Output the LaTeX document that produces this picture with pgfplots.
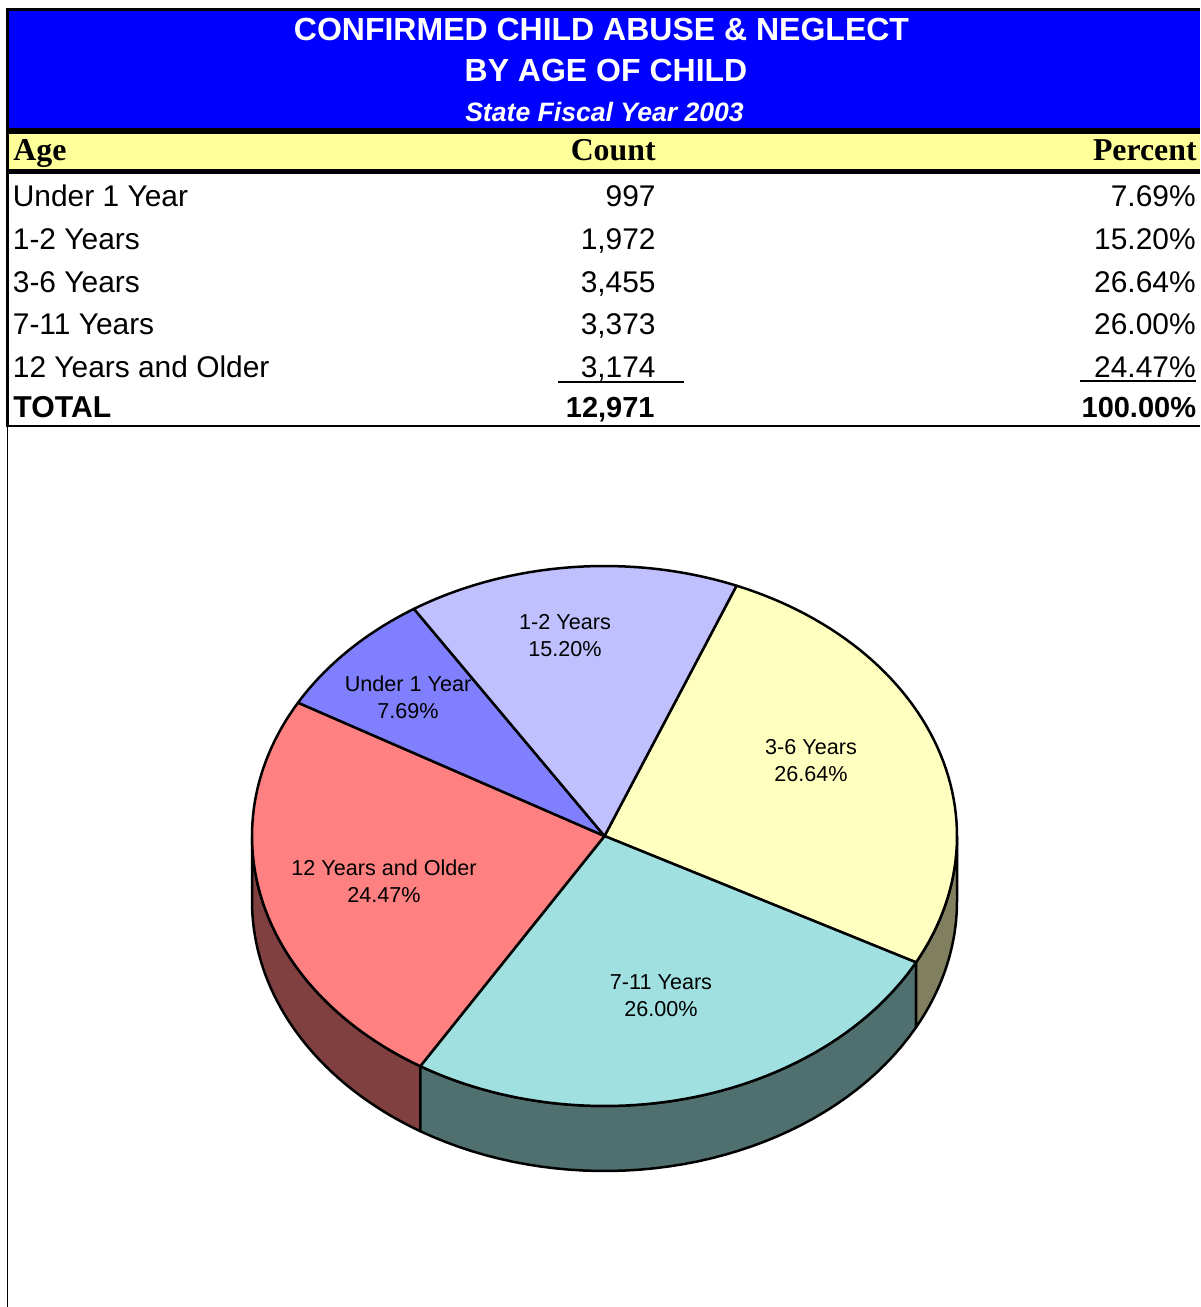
\documentclass[border=0pt]{standalone}
\usepackage{fontspec}
\setmainfont{Liberation Sans}
\newfontfamily\serifb[Ligatures=TeX]{Liberation Serif}
\usepackage{pgfplots}
\usepackage{pgfplotstable}
\pgfplotsset{compat=1.18}
\definecolor{hblue}{HTML}{0000FF}
\definecolor{hyel}{HTML}{FFFF99}
\definecolor{cunder}{HTML}{8080FF}
\definecolor{cone}{HTML}{C0C0FF}
\definecolor{cthree}{HTML}{FFFFC0}
\definecolor{cseven}{HTML}{A0E0E0}
\definecolor{ctwelve}{HTML}{FF8080}
\definecolor{dthree}{HTML}{808060}
\definecolor{dseven}{HTML}{507070}
\definecolor{dtwelve}{HTML}{804040}
% age group, percent of total
\pgfplotstableread{
age percent
under1 7.69
one2 15.20
three6 26.64
seven11 26.00
twelve 24.47
}\pietable
\newcommand\getp[2]{\pgfplotstablegetelem{#1}{percent}\of\pietable\let#2\pgfplotsretval}
\getp{0}{\pU}\getp{1}{\pO}\getp{2}{\pT}\getp{3}{\pS}\getp{4}{\pW}
\def\cx{604.5}\def\cy{836}\def\rx{352.5}\def\ry{270}\def\dep{65}
\pgfmathsetmacro\aA{68.0}
\pgfmathsetmacro\aB{\aA-3.6*\pT}
\pgfmathsetmacro\aC{\aB-3.6*\pS}
\pgfmathsetmacro\aD{\aC-3.6*\pW}
\pgfmathsetmacro\aE{\aD-3.6*\pU}
\pgfmathsetmacro\aF{\aE-3.6*\pO}
\pgfmathsetmacro\wB{\aB+360}
\pgfmathsetmacro\wC{\aC+360}
\newcommand\slice[3]{\addplot[draw=black,fill=#3,line width=1.25pt,line join=round,samples=60,domain=#1:#2,variable=\t]
  ({\cx+\rx*cos(\t)},{\cy-\ry*sin(\t)}) -- (axis cs:\cx,\cy) -- cycle;}
% wall from angle #1 to #2: upper arc, then lower arc back
\newcommand\wall[3]{\addplot[draw=black,fill=#3,line width=1.25pt,line join=round,samples=82,domain=0:2.025,variable=\t]
  ({\cx+\rx*cos(#1+(#2-#1)*(\t<1.01?\t:2.025-\t))},{\cy-\ry*sin(#1+(#2-#1)*(\t<1.01?\t:2.025-\t))+(\t<1.01?0:\dep)}) -- cycle;}
\newcommand\rowtxt[4]{%
  \node[anchor=base west,inner sep=0pt] at (axis cs:12.5,#1) {\fontsize{14.95}{14.95}\selectfont #2};
  \node[anchor=base east,inner sep=0pt] at (axis cs:656,#1) {\fontsize{14.95}{14.95}\selectfont #3};
  \node[anchor=base east,inner sep=0pt] at (axis cs:1196,#1) {\fontsize{14.95}{14.95}\selectfont #4};}
\newcommand\lab[4]{%
  \node[anchor=base,inner sep=0pt] at (axis cs:#1,#2+14) {\fontsize{10.8}{10.8}\selectfont #3};
  \node[anchor=base,inner sep=0pt] at (axis cs:#1,#2+41) {\fontsize{10.8}{10.8}\selectfont #4};}
\begin{document}
\begin{tikzpicture}
\useasboundingbox (0,0) rectangle (600pt,653.5pt);
\begin{axis}[scale only axis,width=600pt,height=653.5pt,xmin=0,xmax=1200,ymin=0,ymax=1307,y dir=reverse,hide axis,clip=true]
% table
\fill[black] (axis cs:6,8) rectangle (axis cs:1200,174);
\fill[hblue] (axis cs:9,11) rectangle (axis cs:1200,128);
\fill[hyel] (axis cs:9,134) rectangle (axis cs:1200,169);
\fill[white] (axis cs:9,174) rectangle (axis cs:1200,425);
\fill[black] (axis cs:6,174) rectangle (axis cs:9,425);
\fill[black] (axis cs:6,425) rectangle (axis cs:1200,427);
\fill[black] (axis cs:6.5,427) rectangle (axis cs:8,1307);
\fill[black] (axis cs:558,381.3) rectangle (axis cs:684,383.3);
\fill[black] (axis cs:1080,380.3) rectangle (axis cs:1196,382.3);
\node[anchor=base,inner sep=0pt,text=white] at (axis cs:601.5,40) {\fontsize{16}{16}\selectfont\bfseries CONFIRMED CHILD ABUSE \& NEGLECT};
\node[anchor=base,inner sep=0pt,text=white] at (axis cs:606,81) {\fontsize{16}{16}\selectfont\bfseries BY AGE OF CHILD};
\node[anchor=base,inner sep=0pt,text=white] at (axis cs:604.5,121) {\fontsize{13.3}{13.3}\selectfont\bfseries\itshape State Fiscal Year 2003};
\node[anchor=base west,inner sep=0pt] at (axis cs:13,160) {\fontsize{15.9}{15.9}\selectfont\serifb\bfseries Age};
\node[anchor=base east,inner sep=0pt] at (axis cs:656,160) {\fontsize{15.9}{15.9}\selectfont\serifb\bfseries Count};
\node[anchor=base east,inner sep=0pt] at (axis cs:1197,160) {\fontsize{15.9}{15.9}\selectfont\serifb\bfseries Percent};
\rowtxt{206}{Under 1 Year}{997}{7.69\%}
\rowtxt{249}{1-2 Years}{1,972}{15.20\%}
\rowtxt{292}{3-6 Years}{3,455}{26.64\%}
\rowtxt{334}{7-11 Years}{3,373}{26.00\%}
\rowtxt{377}{12 Years and Older}{3,174}{24.47\%}
\node[anchor=base west,inner sep=0pt] at (axis cs:13,417) {\fontsize{15.1}{15.1}\selectfont\bfseries TOTAL};
\node[anchor=base east,inner sep=0pt] at (axis cs:655,417) {\fontsize{14.5}{14.5}\selectfont\bfseries 12,971};
\node[anchor=base east,inner sep=0pt] at (axis cs:1196.5,417) {\fontsize{14.5}{14.5}\selectfont\bfseries 100.00\%};
% pie walls
\wall{180}{\wC}{dtwelve}
\wall{\wC}{\wB}{dseven}
\wall{\wB}{360}{dthree}
% pie top
\slice{\aA}{\aB}{cthree}
\slice{\aB}{\aC}{cseven}
\slice{\aC}{\aD}{ctwelve}
\slice{\aD}{\aE}{cunder}
\slice{\aE}{\aF}{cone}
\lab{565}{615}{1-2 Years}{15.20\%}
\lab{408}{677}{Under 1 Year}{7.69\%}
\lab{811}{740}{3-6 Years}{26.64\%}
\lab{661}{975}{7-11 Years}{26.00\%}
\lab{384}{861}{12 Years and Older}{24.47\%}
\end{axis}
\end{tikzpicture}
\end{document}
